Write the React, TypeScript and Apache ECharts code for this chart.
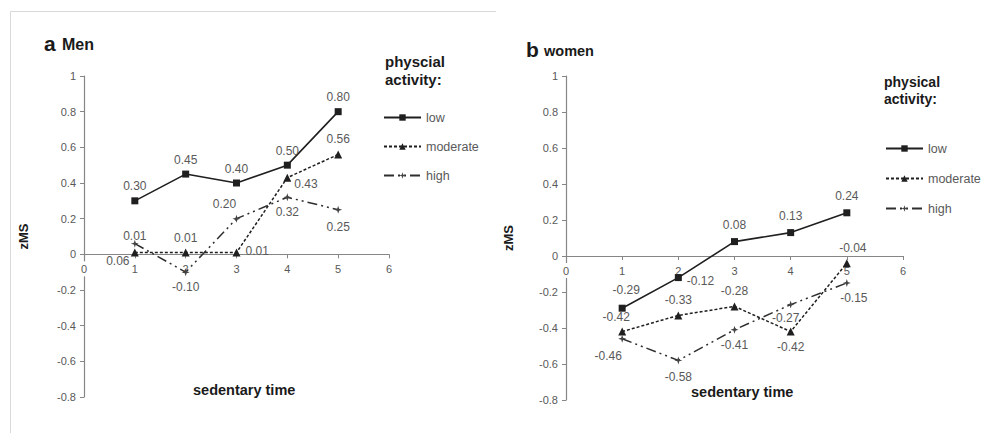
import React, { useEffect, useRef } from "react";
import * as echarts from "echarts";

const xValues = [1, 2, 3, 4, 5];
const seriesNames = ["low", "moderate", "high"];

const menLow = [0.3, 0.45, 0.4, 0.5, 0.8];
const menModerate = [0.01, 0.01, 0.01, 0.43, 0.56];
const menHigh = [0.06, -0.1, 0.2, 0.32, 0.25];

const womenLow = [-0.29, -0.12, 0.08, 0.13, 0.24];
const womenModerate = [-0.42, -0.33, -0.28, -0.42, -0.04];
const womenHigh = [-0.46, -0.58, -0.41, -0.27, -0.15];

const xTicks = { min: 0, max: 6, interval: 1 };
const yTicks = { min: -0.8, max: 1, interval: 0.2 };

// label placement (style only)
type LP = { position: string; offset?: [number, number] };
const menLowLabels: LP[] = [
  { position: "top" }, { position: "top" }, { position: "top" }, { position: "top" }, { position: "top" },
];
const menModLabels: LP[] = [
  { position: "top", offset: [0, -2] }, { position: "top" }, { position: "right", offset: [0, -2] },
  { position: "right", offset: [-2, 6] }, { position: "top" },
];
const menHighLabels: LP[] = [
  { position: "bottom", offset: [-17, 2] }, { position: "bottom" }, { position: "top", offset: [-12, 0] },
  { position: "bottom" }, { position: "bottom", offset: [0, 2] },
];
const womenLowLabels: LP[] = [
  { position: "top", offset: [4, -4] }, { position: "right", offset: [0, 3] }, { position: "top", offset: [0, -2] },
  { position: "top", offset: [0, -2] }, { position: "top", offset: [0, -2] },
];
const womenModLabels: LP[] = [
  { position: "top", offset: [-6, 0] }, { position: "top" }, { position: "top" },
  { position: "bottom" }, { position: "top", offset: [6, 0] },
];
const womenHighLabels: LP[] = [
  { position: "bottom", offset: [-14, 2] }, { position: "bottom", offset: [0, 2] }, { position: "bottom" },
  { position: "bottom", offset: [-5, -2] }, { position: "bottom", offset: [7, 0] },
];

const FONT = "Liberation Sans, Arial, sans-serif";
const LABEL_COLOR = "#595959";

const starPath = "path://M5,0 L6.2,3.8 L10,5 L6.2,6.2 L5,10 L3.8,6.2 L0,5 L3.8,3.8 Z";

const styles: Record<string, any> = {
  low: {
    symbol: "rect",
    symbolSize: 7,
    lineStyle: { color: "#1f1f1f", width: 1.6, type: "solid" },
    itemStyle: { color: "#1f1f1f" },
  },
  moderate: {
    symbol: "triangle",
    symbolSize: 8,
    lineStyle: { color: "#1f1f1f", width: 1.5, type: [3, 2] },
    itemStyle: { color: "#1f1f1f" },
  },
  high: {
    symbol: starPath,
    symbolSize: 8,
    lineStyle: { color: "#2e2e2e", width: 1.5, type: [10, 4, 2, 4, 2, 4] },
    itemStyle: { color: "#444444" },
  },
};

const grids = [
  { left: 84, top: 76, width: 305, height: 321 },
  { left: 566, top: 76, width: 337, height: 324 },
];

function makeSeries(name: string, values: number[], labels: LP[], idx: number) {
  const st = styles[name];
  return {
    type: "line",
    name,
    xAxisIndex: idx,
    yAxisIndex: idx,
    symbol: st.symbol,
    symbolSize: st.symbolSize,
    lineStyle: st.lineStyle,
    itemStyle: st.itemStyle,
    z: name === "low" ? 4 : 3,
    data: values.map((v, i) => ({
      value: [xValues[i], v],
      label: {
        show: true,
        position: labels[i].position,
        offset: labels[i].offset || [0, 0],
        formatter: () => v.toFixed(2),
        color: LABEL_COLOR,
        fontFamily: FONT,
        fontSize: 12,
      },
    })),
  };
}

function xAxisDef(idx: number) {
  const g = grids[idx];
  // place the x axis at y = 0 of the value axis
  const zeroFromBottom = (g.height * (0 - yTicks.min)) / (yTicks.max - yTicks.min);
  return {
    type: "value",
    gridIndex: idx,
    min: xTicks.min,
    max: xTicks.max,
    interval: xTicks.interval,
    position: "bottom",
    offset: -zeroFromBottom,
    z: 1,
    axisLine: { onZero: false, lineStyle: { color: "#868686", width: 1.2 } },
    axisTick: { show: true, length: 4, lineStyle: { color: "#868686" } },
    axisLabel: {
      color: LABEL_COLOR,
      fontFamily: FONT,
      fontSize: 11,
      margin: 7,
      backgroundColor: "#ffffff",
      padding: [2, 3, 2, 3],
    },
    splitLine: { show: false },
  };
}

function yAxisDef(idx: number, gap: number) {
  return {
    type: "value",
    gridIndex: idx,
    min: yTicks.min,
    max: yTicks.max,
    interval: yTicks.interval,
    z: 0,
    name: "zMS",
    nameLocation: "middle",
    nameRotate: 90,
    nameGap: gap,
    nameTextStyle: { fontFamily: FONT, fontWeight: "bold", fontSize: 13, color: "#1a1a1a" },
    axisLine: { show: true, onZero: false, lineStyle: { color: "#868686", width: 1.2 } },
    axisTick: { show: true, length: 4, lineStyle: { color: "#868686" } },
    axisLabel: { color: LABEL_COLOR, fontFamily: FONT, fontSize: 11, margin: 8 },
    splitLine: { show: false },
  };
}

function legendDef(left: number, top: number, gap: number) {
  return {
    orient: "vertical",
    left,
    top,
    padding: 0,
    itemWidth: 37,
    itemHeight: 8,
    itemGap: gap,
    data: seriesNames,
    selectedMode: false,
    textStyle: { color: LABEL_COLOR, fontFamily: FONT, fontSize: 12.5 },
  };
}

function txt(x: number, y: number, text: string, size: number, extra: any = {}) {
  return {
    type: "text",
    x,
    y,
    style: {
      text,
      fontFamily: FONT,
      fontSize: size,
      fontWeight: "bold",
      fill: "#1a1a1a",
      ...extra,
    },
  };
}

export default function App() {
  const ref = useRef<HTMLDivElement>(null);
  useEffect(() => {
    if (!ref.current) return;
    const chart = echarts.init(ref.current, undefined, { renderer: "svg" });
    chart.setOption({
      animation: false,
      backgroundColor: "#ffffff",
      grid: grids.map((g) => ({ ...g, containLabel: false })),
      xAxis: [xAxisDef(0), xAxisDef(1)],
      yAxis: [yAxisDef(0, 54), yAxisDef(1, 51)],
      legend: [legendDef(383, 111, 16), legendDef(885, 142, 17)],
      series: [
        makeSeries("low", menLow, menLowLabels, 0),
        makeSeries("moderate", menModerate, menModLabels, 0),
        makeSeries("high", menHigh, menHighLabels, 0),
        makeSeries("low", womenLow, womenLowLabels, 1),
        makeSeries("moderate", womenModerate, womenModLabels, 1),
        makeSeries("high", womenHigh, womenHighLabels, 1),
      ],
      graphic: [
        {
          type: "polyline",
          shape: { points: [[10.5, 433], [10.5, 11.5], [496, 11.5]] },
          style: { stroke: "#d9d9d9", fill: null, lineWidth: 1 },
          silent: true,
        },
        txt(44, 33, "a", 21),
        txt(62, 36, "Men", 16),
        txt(526, 39, "b", 21),
        txt(544, 43, "women", 14.5),
        txt(385, 54, "physcial", 15),
        txt(385, 72, "activity:", 15),
        txt(884, 75, "physical", 14),
        txt(884, 92, "activity:", 14),
        txt(193, 382, "sedentary time", 14.5),
        txt(691, 384, "sedentary time", 14.5),
      ],
    });
    return () => chart.dispose();
  }, []);
  return (
    <div
      ref={ref}
      style={{ position: "fixed", left: 0, top: 0, width: 983, height: 433 }}
    />
  );
}
